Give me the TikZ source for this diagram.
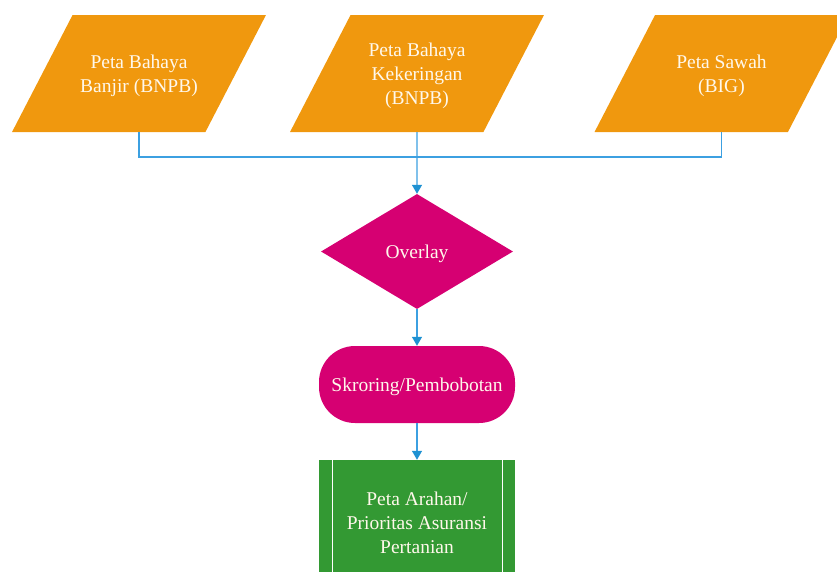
\documentclass[tikz,border=0pt]{standalone}
\usepackage{fontspec}
\setmainfont{Liberation Serif}
\newfontfamily\timesfont{Liberation Serif}
\usetikzlibrary{shapes.geometric,arrows.meta}
\definecolor{porange}{RGB}{240,152,14}
\definecolor{pmag}{RGB}{214,0,114}
\definecolor{pgreen}{RGB}{51,153,51}
\definecolor{pline}{RGB}{60,160,225}
\definecolor{parrow}{RGB}{30,145,210}
\definecolor{ptext}{RGB}{255,248,235}
\tikzset{
  basefont/.style={font=\timesfont\fontsize{19.5}{24}\selectfont, text=ptext, align=center, inner sep=0pt},
  txt/.style={basefont, yshift=-2.5pt},
  inbox/.style={inner sep=0pt, trapezium, trapezium left angle=63.6, trapezium right angle=116.4,
    trapezium stretches=true, minimum width=254pt, minimum height=117pt, fill=porange},
  decbox/.style={inner sep=0pt, diamond, minimum width=192pt, minimum height=115pt, fill=pmag},
  procbox/.style={inner sep=0pt, rectangle, rounded corners=36pt, minimum width=196pt, minimum height=77pt, fill=pmag},
  outbox/.style={inner sep=0pt, rectangle, minimum width=196pt, minimum height=120pt, fill=pgreen},
  conn/.style={pline, line width=1.2pt},
  arr/.style={conn, -{Triangle[width=10pt,length=9pt,color=parrow]}},
}
\begin{document}
\begin{tikzpicture}[x=1pt,y=-1pt]
\useasboundingbox (0,0) rectangle (837,571);
\node[inbox] (p1) at (139,73.5) {\phantom{x}};
\node[inbox] (p2) at (417,73.5) {\phantom{x}};
\node[inbox] (p3) at (721.5,73.5) {\phantom{x}};
\node[decbox] (d) at (417,251.5) {\phantom{x}};
\node[procbox] (s) at (417,384.5) {\phantom{x}};
\node[outbox] (o) at (417,520) {\phantom{x}};
\node[txt] (p1t) at (p1.center) {Peta Bahaya\\Banjir (BNPB)};
\node[txt] (p2t) at (p2.center) {Peta Bahaya\\Kekeringan\\(BNPB)};
\node[txt] (p3t) at (p3.center) {Peta Sawah\\(BIG)};
\node[txt] (dt) at (d.center) {Overlay};
\node[txt] (st) at (s.center) {Skroring/Pembobotan};
\node[txt] (ot) at (o.center) {Peta Arahan/\\Prioritas Asuransi\\Pertanian};
\draw[white, line width=0.8pt] ([xshift=14pt]o.north west) -- ([xshift=14pt]o.south west);
\draw[white, line width=0.8pt] ([xshift=-13pt]o.north east) -- ([xshift=-13pt]o.south east);
\coordinate (j) at (417,157);
\draw[conn] (p1.south) |- (j);
\draw[conn] (p3.south) |- (j);
\draw[arr] (p2.south) -- (d.north);
\draw[arr] (d.south) -- (s.north);
\draw[arr] (s.south) -- (o.north);
\end{tikzpicture}
\end{document}
